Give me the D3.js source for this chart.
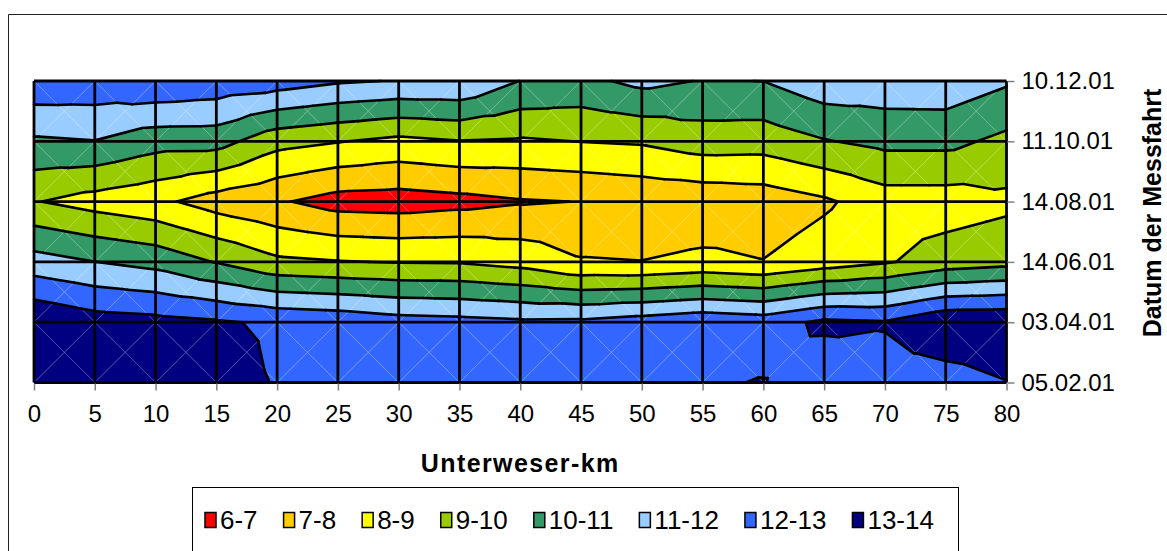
<!DOCTYPE html>
<html>
<head>
<meta charset="utf-8">
<script src="https://cdn.jsdelivr.net/npm/d3@7"></script>
<style>
  body { margin: 0; background: #fff; }
  svg text { font-family: "Liberation Sans", Arial, sans-serif; fill: #000; }
</style>
</head>
<body>
<svg id="chart" width="1167" height="551"></svg>
<script>
// Unterweser-km stations and dates of the survey trips
const kmPoints = [0, 5, 10, 15, 20, 25, 30, 35, 40, 45, 50, 55, 60, 65, 70, 75, 80];
const dates = ["05.02.01", "03.04.01", "14.06.01", "14.08.01", "11.10.01", "10.12.01"];

// measured values per trip (same order as kmPoints)
const trip050201 = [13.7, 13.6, 13.5, 13.5, 12.93, 12.6, 12.5, 12.45, 12.4, 12.5, 12.6, 12.9, 13.04, 12.3, 12.6, 12.51, 12.96];
const trip030401 = [13.95, 13.45, 13.32, 13.12, 12.84, 12.7, 12.41, 12.31, 12.17, 12.2, 12.46, 12.74, 12.54, 13.2, 13.08, 13.88, 13.93];
const trip140601 = [11.42, 11.01, 10.67, 9.95, 9.2, 9.05, 8.95, 8.93, 8.65, 8.08, 8.02, 8.22, 8.03, 8.5, 8.9, 9.45, 9.68];
const trip140801 = [9.06, 8.6, 8.24, 7.55, 7.12, 6.6, 6.53, 6.7, 6.92, 7.02, 7.2, 7.3, 7.42, 7.85, 8.53, 8.53, 8.78];
const trip111001 = [10.85, 10.97, 10.42, 10.4, 9.35, 9.05, 8.75, 8.97, 8.88, 9.02, 9.12, 9.5, 9.45, 9.94, 10.27, 10.27, 9.75];
const trip101201 = [12.74, 12.68, 12.88, 12.69, 12.5, 12.12, 11.95, 11.95, 10.98, 10.74, 11.26, 10.95, 11.01, 11.64, 11.62, 11.66, 11.13];

// contour bands
const levels = [6, 7, 8, 9, 10, 11, 12, 13, 14];
const bandLabels = ["6-7", "7-8", "8-9", "9-10", "10-11", "11-12", "12-13", "13-14"];
const bandColors = ["#ff0000", "#ffcc00", "#ffff00", "#99cc00", "#339966", "#99ccff", "#3366ff", "#000080"];

const rows = [trip050201, trip030401, trip140601, trip140801, trip111001, trip101201];

const svg = d3.select("#chart");

const x = d3.scaleLinear().domain([0, 80]).range([34, 1006.5]);
const y = d3.scalePoint().domain(dates).range([382.5, 81]);
const color = d3.scaleOrdinal().domain(bandLabels).range(bandColors);

// chart area frame (only top and left are inside the picture)
svg.append("path")
  .attr("d", "M8.5,551V14.5H1167")
  .attr("fill", "none")
  .attr("stroke", "#222")
  .attr("stroke-width", 1);

// Split every grid cell into 4 triangles around its centre, like Excel does
const node = (i, j) => ({ px: x(kmPoints[i]), py: y(dates[j]), v: rows[j][i] });
const triangles = [];
for (let j = 0; j < dates.length - 1; j++) {
  for (let i = 0; i < kmPoints.length - 1; i++) {
    const a = node(i, j + 1), b = node(i + 1, j + 1), c = node(i + 1, j), d = node(i, j);
    const e = { px: (a.px + b.px) / 2, py: (a.py + d.py) / 2, v: (a.v + b.v + c.v + d.v) / 4 };
    triangles.push([a, b, e], [b, c, e], [c, d, e], [d, a, e]);
  }
}

// keep the part of a polygon above (or below) a level, linear along edges
function clip(poly, level, above) {
  const out = [];
  for (let k = 0; k < poly.length; k++) {
    const p = poly[k], q = poly[(k + 1) % poly.length];
    const inP = (p.v >= level) === above, inQ = (q.v >= level) === above;
    if (inP) out.push(p);
    if (inP !== inQ) {
      const t = (level - p.v) / (q.v - p.v);
      out.push({ px: p.px + t * (q.px - p.px), py: p.py + t * (q.py - p.py), v: level });
    }
  }
  return out;
}

const line = d3.line();

const fills = svg.append("g");
bandLabels.forEach((label, b) => {
  triangles.forEach(tri => {
    const poly = clip(clip(tri, levels[b], true), levels[b + 1], false);
    if (poly.length < 3) return;
    fills.append("path")
      .attr("d", line(poly.map(p => [p.px, p.py])) + "Z")
      .attr("fill", color(label))
      .attr("stroke", color(label))
      .attr("stroke-width", 0.6);
  });
});

// faint cell diagonals
const diag = svg.append("g")
  .attr("stroke", "#fff")
  .attr("stroke-opacity", 0.35)
  .attr("stroke-width", 0.8);
for (let j = 0; j < dates.length - 1; j++) {
  for (let i = 0; i < kmPoints.length - 1; i++) {
    diag.append("path").attr("d", line([[x(kmPoints[i]), y(dates[j + 1])], [x(kmPoints[i + 1]), y(dates[j])]]));
    diag.append("path").attr("d", line([[x(kmPoints[i]), y(dates[j])], [x(kmPoints[i + 1]), y(dates[j + 1])]]));
  }
}

// contour lines
const contour = svg.append("g")
  .attr("stroke", "#000")
  .attr("stroke-width", 2.6)
  .attr("stroke-linecap", "round")
  .attr("fill", "none");
levels.forEach(L => {
  triangles.forEach(tri => {
    const pts = [];
    for (let k = 0; k < 3; k++) {
      const p = tri[k], q = tri[(k + 1) % 3];
      if ((p.v >= L) !== (q.v >= L)) {
        const t = (L - p.v) / (q.v - p.v);
        pts.push([p.px + t * (q.px - p.px), p.py + t * (q.py - p.py)]);
      }
    }
    if (pts.length === 2) contour.append("path").attr("d", line(pts));
  });
});

// grid lines
const grid = svg.append("g").attr("stroke", "#000").attr("stroke-width", 2.8);
grid.selectAll(".vgrid")
  .data(kmPoints)
  .join("line")
  .attr("x1", d => x(d)).attr("x2", d => x(d))
  .attr("y1", y(dates[dates.length - 1])).attr("y2", y(dates[0]));
grid.selectAll(".hgrid")
  .data(dates)
  .join("line")
  .attr("x1", x(0)).attr("x2", x(80))
  .attr("y1", d => y(d)).attr("y2", d => y(d));

// axes
svg.append("g")
  .attr("transform", `translate(0,${y(dates[0]) + 1})`)
  .call(d3.axisBottom(x).tickValues(kmPoints).tickSize(7).tickPadding(14))
  .call(g => g.select(".domain").remove())
  .call(g => g.selectAll(".tick line").attr("stroke", "#808080").attr("stroke-width", 1.5))
  .call(g => g.attr("font-family", null).attr("font-size", 24));

svg.append("g")
  .attr("transform", `translate(${x(80) + 1},0)`)
  .call(d3.axisRight(y).tickSize(7).tickPadding(7))
  .call(g => g.select(".domain").remove())
  .call(g => g.selectAll(".tick line").attr("stroke", "#808080").attr("stroke-width", 1.5))
  .call(g => g.attr("font-family", null).attr("font-size", 24));

// axis titles
svg.append("text")
  .attr("x", (x(0) + x(80)) / 2)
  .attr("y", 463)
  .attr("dy", "0.35em")
  .attr("text-anchor", "middle")
  .attr("font-weight", "bold")
  .attr("font-size", 25)
  .attr("letter-spacing", 1.4)
  .text("Unterweser-km");

svg.append("text")
  .attr("transform", "translate(1152,213) rotate(-90)")
  .attr("dy", "0.35em")
  .attr("text-anchor", "middle")
  .attr("font-weight", "bold")
  .attr("font-size", 25)
  .text("Datum der Messfahrt");

// legend
svg.append("rect")
  .attr("x", 192.5).attr("y", 487.5)
  .attr("width", 766).attr("height", 80)
  .attr("fill", "#fff")
  .attr("stroke", "#000")
  .attr("stroke-width", 1);

let lx = 205;
const legend = svg.append("g");
bandLabels.forEach(label => {
  const item = legend.append("g").attr("transform", `translate(${lx},520)`);
  item.append("rect")
    .attr("x", 0).attr("y", -7.5)
    .attr("width", 11).attr("height", 15)
    .attr("fill", color(label))
    .attr("stroke", "#000")
    .attr("stroke-width", 1.5);
  const t = item.append("text")
    .attr("x", 15)
    .attr("dy", "0.35em")
    .attr("font-size", 26)
    .text(label);
  lx += 15 + t.node().getComputedTextLength() + 26;
});
</script>
</body>
</html>
